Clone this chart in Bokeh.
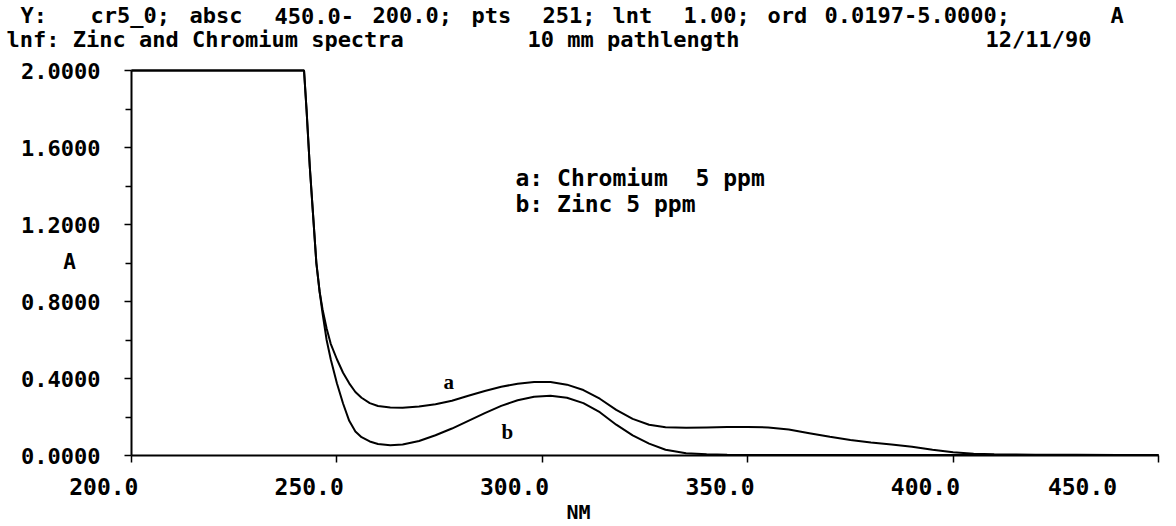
from bokeh.plotting import figure
from bokeh.models import Range1d, FixedTicker, PrintfTickFormatter, Label
from bokeh.embed import file_html
from bokeh.resources import INLINE

# ---- data ----
wavelength_nm = [200, 242, 242.6, 243.4, 244.2, 245, 245.8, 246.5, 247.5, 248.5,
                 250, 251.5, 253, 254.5, 256, 258, 260, 263, 266, 270,
                 274, 278, 282, 286, 290, 294, 298, 302, 306, 310,
                 314, 318, 322, 326, 330, 335, 340, 345, 350, 355,
                 360, 365, 370, 375, 380, 385, 390, 395, 400, 405,
                 410, 420, 430, 440, 450]
chromium_abs = [2.0, 2.0, 1.8, 1.5, 1.25, 1.0, 0.85, 0.76, 0.66, 0.58,
                0.50, 0.43, 0.375, 0.33, 0.30, 0.272, 0.257, 0.249, 0.248, 0.254,
                0.266, 0.284, 0.31, 0.335, 0.357, 0.373, 0.382, 0.382, 0.368, 0.34,
                0.295, 0.237, 0.19, 0.16, 0.147, 0.144, 0.146, 0.148, 0.148, 0.146,
                0.135, 0.116, 0.097, 0.081, 0.068, 0.057, 0.045, 0.03, 0.017, 0.009,
                0.006, 0.004, 0.004, 0.003, 0.003]
zinc_abs = [2.0, 2.0, 1.8, 1.5, 1.25, 1.0, 0.85, 0.74, 0.6, 0.5,
            0.375, 0.27, 0.18, 0.125, 0.095, 0.073, 0.06, 0.053, 0.057, 0.075,
            0.105, 0.14, 0.18, 0.22, 0.258, 0.287, 0.305, 0.31, 0.3, 0.272,
            0.225, 0.16, 0.105, 0.062, 0.03, 0.012, 0.006, 0.004, 0.003, 0.003,
            0.003, 0.003, 0.003, 0.003, 0.003, 0.003, 0.003, 0.003, 0.003, 0.003,
            0.003, 0.003, 0.003, 0.003, 0.003]
x_ticks = [200, 250, 300, 350, 400, 450]
y_ticks = [0.0, 0.4, 0.8, 1.2, 1.6, 2.0]
y_minor_ticks = [0.2, 0.6, 1.0, 1.4, 1.8]
x_bounds = (200, 450)
y_bounds = (0.0, 2.0)

header_line1 = ["Y:", "cr5_0;", "absc", "450.0-", "200.0;", "pts", "251;",
                "lnt", "1.00;", "ord", "0.0197-5.0000;", "A"]
header_line2 = ["lnf: Zinc and Chromium spectra", "10 mm pathlength", "12/11/90"]
legend_lines = ["a: Chromium\u00a0 5 ppm", "b: Zinc 5 ppm"]
curve_names = ["a", "b"]

# ---- layout (page pixels) ----
W, H = 1172, 526
AX_L, AX_R, AX_B, AX_T = 131, 1158, 455, 70      # where the axes sit on the page
SX = (AX_R - AX_L) / (x_bounds[1] - x_bounds[0])
SY = (AX_B - AX_T) / (y_bounds[1] - y_bounds[0])
MONO = "DejaVu Sans Mono"

p = figure(width=W, height=H,
           x_range=Range1d(x_bounds[0] - AX_L / SX, x_bounds[0] + (W - AX_L) / SX),
           y_range=Range1d(y_bounds[0] - (H - AX_B) / SY, y_bounds[0] + AX_B / SY),
           output_backend="svg", toolbar_location=None,
           min_border=0, min_border_left=0, min_border_right=0,
           min_border_top=0, min_border_bottom=0)
p.title.visible = False
p.outline_line_color = None
p.xgrid.visible = False
p.ygrid.visible = False
p.background_fill_color = "white"
p.border_fill_color = "white"

p.xaxis.fixed_location = y_bounds[0]
p.yaxis.fixed_location = x_bounds[0]
p.xaxis.bounds = x_bounds
p.yaxis.bounds = y_bounds

for ax in (p.xaxis, p.yaxis):
    ax.axis_line_width = 2
    ax.axis_line_color = "black"
    ax.major_tick_line_color = "black"
    ax.major_tick_line_width = 1.5
    ax.major_tick_in = 0
    ax.major_tick_out = 7
    ax.minor_tick_line_color = "black"
    ax.minor_tick_line_width = 1.5
    ax.minor_tick_in = 0
    ax.minor_tick_out = 6
    ax.major_label_text_font = MONO
    ax.major_label_text_font_style = "bold"
    ax.major_label_text_color = "black"

p.xaxis.ticker = FixedTicker(ticks=x_ticks, minor_ticks=[])
p.xaxis.formatter = PrintfTickFormatter(format="%.1f" + "\u00a0" * 4)
p.xaxis.major_label_text_font_size = "23px"
p.xaxis.major_label_standoff = 11
p.yaxis.ticker = FixedTicker(ticks=y_ticks, minor_ticks=y_minor_ticks)
p.yaxis.formatter = PrintfTickFormatter(format="%.4f")
p.yaxis.major_label_text_font_size = "22px"
p.yaxis.major_label_standoff = 24

p.line(wavelength_nm, chromium_abs, line_width=2, line_color="black")
p.line(wavelength_nm, zinc_abs, line_width=2, line_color="black")


def put(text, ix, iy, size, align="left", font=MONO, style="bold"):
    # ix, iy: page pixel position (top-left origin); frame covers the whole canvas
    p.add_layout(Label(x=ix, y=H - iy, x_units="screen", y_units="screen",
                       text=text, text_align=align, text_baseline="middle",
                       text_font=font, text_font_style=style,
                       text_font_size=f"{size}px", text_color="black"))


line1_x = [20, 90, 189, 274, 372, 471, 542, 612, 683, 767, 824, 1110]
for t, ix in zip(header_line1, line1_x):
    put(t, ix, 15, 22)
line2_x = [6, 527, 985]
for t, ix in zip(header_line2, line2_x):
    put(t, ix, 39, 22)

put(legend_lines[0], 515, 177, 23)
put(legend_lines[1], 515, 203, 23)

put("A", 69, 261, 21, align="center")
put("NM", 578, 511, 20, align="center")

# curve labels in data coordinates
for name, lx, ly in zip(curve_names, [277.2, 291.5], [0.38, 0.12]):
    p.add_layout(Label(x=lx, y=ly, text=name, text_align="center", text_baseline="middle",
                       text_font="Liberation Serif", text_font_style="bold",
                       text_font_size="21px", text_color="black"))

open("out.html", "w").write(file_html(p, INLINE))
